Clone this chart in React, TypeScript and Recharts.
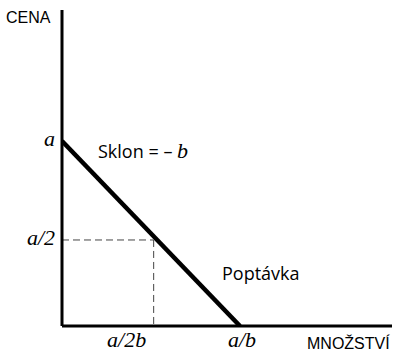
import React from "react";
import { ComposedChart, Line, XAxis, YAxis, ReferenceLine, Customized } from "recharts";

const demandX = [0, 1];
const demandY = [1, 0];
const midX = 0.515;
const midY = 0.465;
const xTicks = [midX, 1];
const xTickLabels = ["a/2b", "a/b"];
const yTicks = [midY, 1];
const yTickLabels = ["a/2", "a"];

const demandData = demandX.map((x, i) => ({ x, y: demandY[i] }));

const XTick = (props: any) => {
  const { x, y, payload, index } = props;
  const label = xTickLabels[xTicks.indexOf(payload.value)] ?? "";
  const dx = index === 0 ? -27 : 2;
  return (
    <text x={x + dx} y={y + 13} textAnchor="middle" fontFamily="Liberation Serif" fontStyle="italic" fontSize={22} fill="#000">
      {label}
    </text>
  );
};

const YTick = (props: any) => {
  const { x, y, payload } = props;
  const label = yTickLabels[yTicks.indexOf(payload.value)] ?? "";
  return (
    <text x={x + 1} y={y + 5} textAnchor="end" fontFamily="Liberation Serif" fontStyle="italic" fontSize={22} fill="#000">
      {label}
    </text>
  );
};

const Annotations = () => (
  <g>
    <text x={6} y={23} fontFamily="Liberation Sans" fontSize={16} fill="#000">CENA</text>
    <text x={307} y={349} fontFamily="Liberation Sans" fontSize={16} fill="#000">MNOŽSTVÍ</text>
    <text x={98} y={158} fontFamily="Open Sans" fontSize={18} fill="#000">
      Sklon = –{" "}
      <tspan fontFamily="Liberation Serif" fontStyle="italic" fontSize={22}>b</tspan>
    </text>
    <text x={222} y={280} fontFamily="Open Sans" fontSize={18} fill="#000">Poptávka</text>
  </g>
);

export default function App() {
  return (
    <div style={{ position: "absolute", left: 0, top: 0 }}>
      <ComposedChart width={393} height={352} data={demandData} margin={{ top: 10, right: 1, left: 0, bottom: 0 }}>
        <XAxis
          type="number"
          dataKey="x"
          domain={[0, 1.854]}
          ticks={xTicks}
          tick={<XTick />}
          tickLine={false}
          axisLine={{ stroke: "#000", strokeWidth: 3 }}
          height={26}
          allowDataOverflow
        />
        <YAxis
          type="number"
          dataKey="y"
          domain={[0, 1.708]}
          ticks={yTicks}
          tick={<YTick />}
          tickLine={false}
          axisLine={{ stroke: "#000", strokeWidth: 3 }}
          width={62}
          allowDataOverflow
        />
        <ReferenceLine
          segment={[{ x: 0, y: midY }, { x: midX, y: midY }]}
          stroke="#444"
          strokeWidth={1}
          strokeDasharray="7 4"
        />
        <ReferenceLine
          segment={[{ x: midX, y: midY }, { x: midX, y: 0 }]}
          stroke="#444"
          strokeWidth={1}
          strokeDasharray="7 4"
        />
        <Line
          type="linear"
          dataKey="y"
          stroke="#000"
          strokeWidth={4.5}
          dot={false}
          activeDot={false}
          isAnimationActive={false}
        />
        <Customized component={Annotations} />
      </ComposedChart>
    </div>
  );
}
